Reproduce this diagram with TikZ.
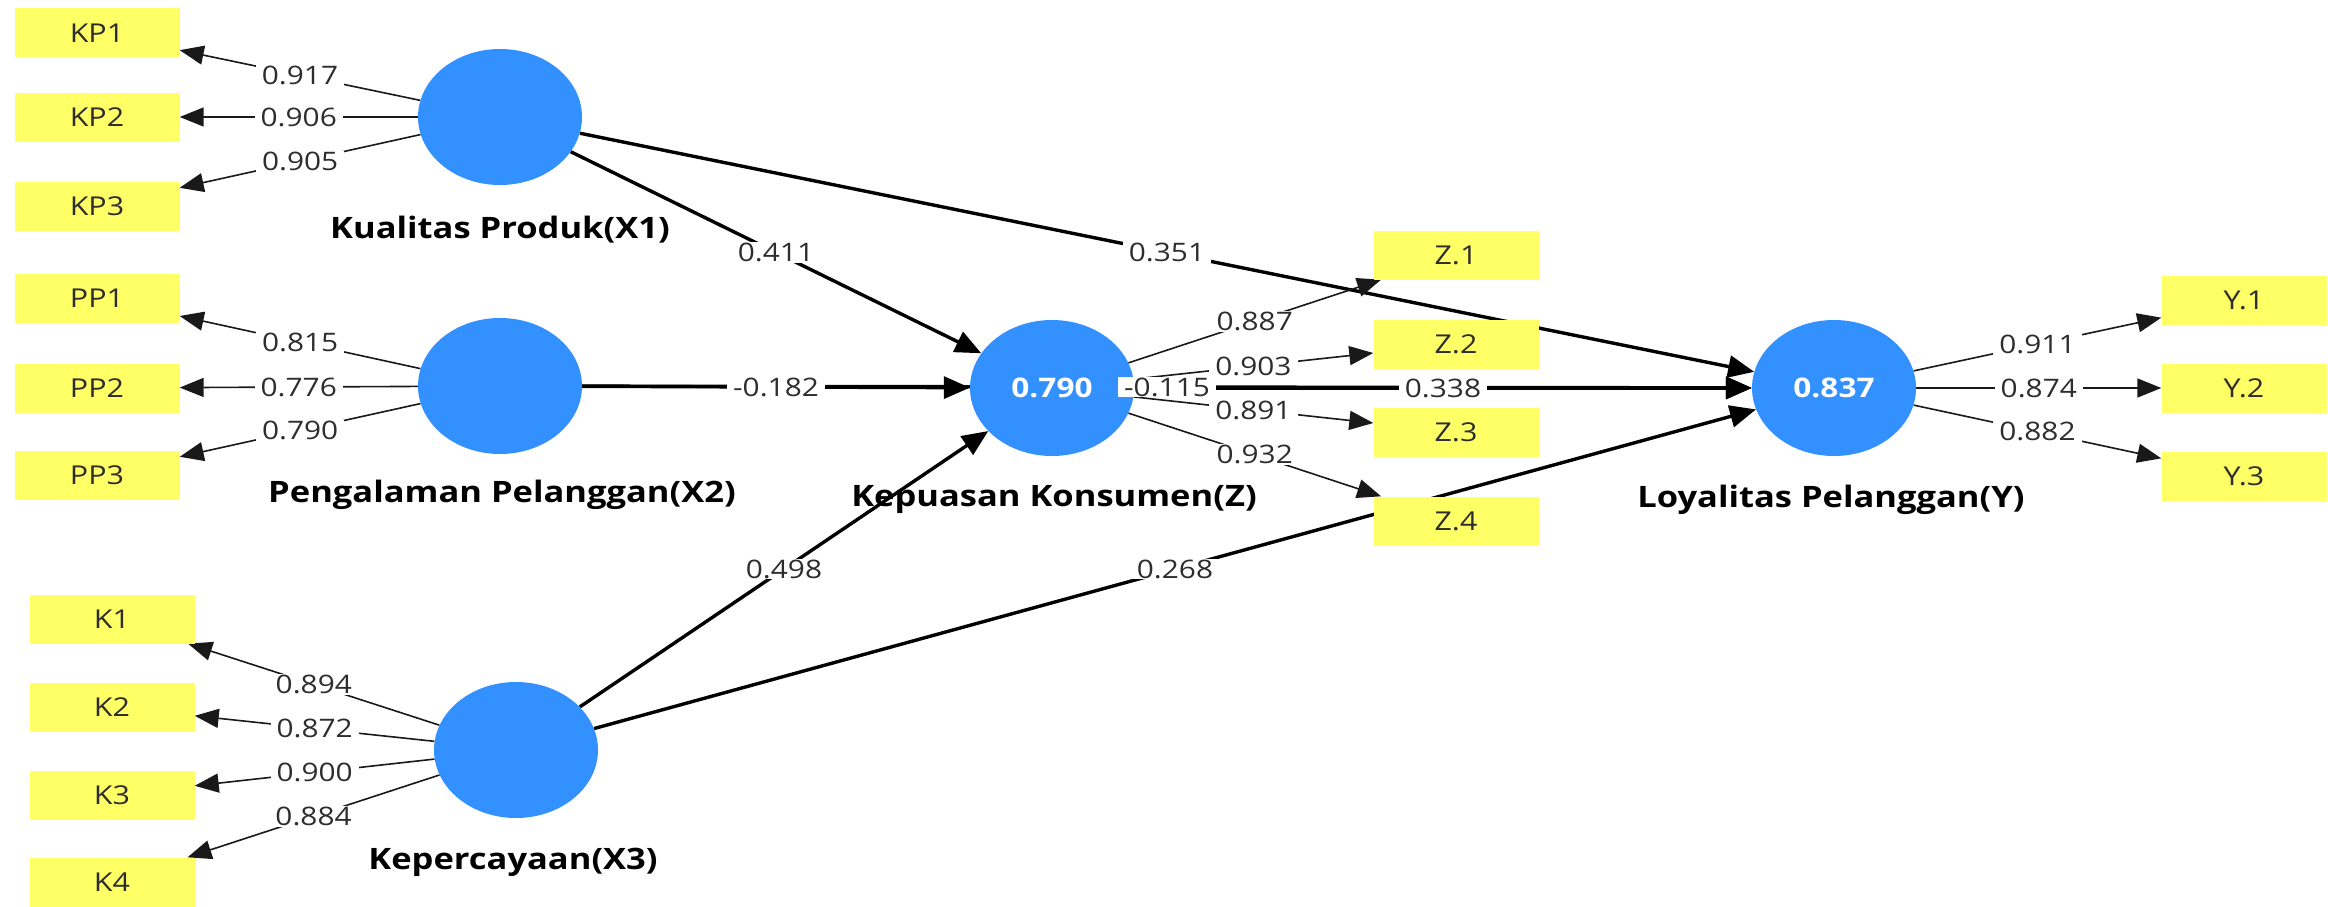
\documentclass[tikz,border=0pt]{standalone}
\usepackage{fontspec}
\setmainfont{Open Sans}[FakeStretch=1.17]
\usetikzlibrary{shapes.geometric,arrows.meta}
\pgfdeclarelayer{bg}\pgfdeclarelayer{fg}\pgfsetlayers{bg,main,fg}
\definecolor{lvblue}{RGB}{51,144,255}
\definecolor{indyel}{RGB}{255,255,102}
\definecolor{txtgray}{RGB}{45,45,45}
\newcommand{\lnk}[5]{%
  \begin{pgfonlayer}{bg}\draw[#1] (#2) -- (#3);\end{pgfonlayer}%
  \begin{pgfonlayer}{fg}\path (#2) -- (#3) node[coef,pos=#5]{#4};\end{pgfonlayer}}
\begin{document}
\begin{tikzpicture}[x=1pt,y=-1pt,
  lv/.style={ellipse, fill=lvblue, minimum width=164pt, minimum height=136pt, inner sep=0pt, text=white, font=\fontsize{27}{30}\selectfont\bfseries},
  ind/.style={rectangle, fill=indyel, minimum width=165pt, minimum height=49pt, inner sep=0pt, text=txtgray, font=\fontsize{26}{30}\selectfont},
  lvname/.style={font=\fontsize{29.5}{33}\selectfont\bfseries, text=black, inner sep=0pt},
  coef/.style={fill=white, inner xsep=6pt, inner ysep=1pt, text=txtgray, font=\fontsize{25.5}{30}\selectfont},
  load/.style={line width=1.6pt, draw=black!90, -{Triangle[length=24pt,width=19pt]}},
  strpath/.style={line width=3.4pt, -{Triangle[length=26pt,width=22pt]}},
]
\useasboundingbox (0,0) rectangle (2328,907);
\begin{pgfonlayer}{bg}\fill[white] (0,0) rectangle (2328,907);\end{pgfonlayer}

% latent variables
\node[lv] (X1) at (500,117) {};
\node[lv] (X2) at (500,386) {};
\node[lv] (X3) at (516,750) {};
\node[lv] (Z)  at (1052,388) {0.790};
\node[lv] (Y)  at (1834,388) {0.837};

% names
\node[lvname] (nX1) at (500,230) {Kualitas Produk(X1)};
\node[lvname] (nX2) at (502,495) {Pengalaman Pelanggan(X2)};
\node[lvname] (nX3) at (513,862) {Kepercayaan(X3)};
\node[lvname] (nZ)  at (1054,500) {Kepuasan Konsumen(Z)};
\node[lvname] (nY)  at (1831,500) {Loyalitas Pelanggan(Y)};

% indicators
\node[ind] (KP1) at (97,33) {KP1};
\node[ind] (KP2) at (97,117) {KP2};
\node[ind] (KP3) at (97,206) {KP3};
\node[ind] (PP1) at (97,298) {PP1};
\node[ind] (PP2) at (97,388) {PP2};
\node[ind] (PP3) at (97,475) {PP3};
\node[ind] (K1) at (112,619) {K1};
\node[ind] (K2) at (112,707) {K2};
\node[ind] (K3) at (112,795) {K3};
\node[ind] (K4) at (112,882) {K4};
\node[ind] (Z1) at (1456,255) {Z.1};
\node[ind] (Z2) at (1456,344) {Z.2};
\node[ind] (Z3) at (1456,432) {Z.3};
\node[ind] (Z4) at (1456,521) {Z.4};
\node[ind] (Y1) at (2244,300) {Y.1};
\node[ind] (Y2) at (2244,388) {Y.2};
\node[ind] (Y3) at (2244,476) {Y.3};

% structural paths
\lnk{strpath}{X1}{Z}{0.411}{0.5}
\lnk{strpath}{X1}{Y}{0.351}{0.5}
\lnk{strpath}{X2}{Z}{-0.182}{0.5}
\lnk{strpath}{X2}{Y}{-0.115}{0.5}
\lnk{strpath}{X3}{Z}{0.498}{0.5}
\lnk{strpath}{X3}{Y}{0.268}{0.5}
\lnk{strpath}{Z}{Y}{0.338}{0.5}

% outer loadings
\lnk{load}{X1}{KP1}{0.917}{0.5}
\lnk{load}{X1}{KP2}{0.906}{0.5}
\lnk{load}{X1}{KP3}{0.905}{0.5}
\lnk{load}{X2}{PP1}{0.815}{0.5}
\lnk{load}{X2}{PP2}{0.776}{0.5}
\lnk{load}{X2}{PP3}{0.790}{0.5}
\lnk{load}{X3}{K1}{0.894}{0.5}
\lnk{load}{X3}{K2}{0.872}{0.5}
\lnk{load}{X3}{K3}{0.900}{0.5}
\lnk{load}{X3}{K4}{0.884}{0.5}
\lnk{load}{Z}{Z1}{0.887}{0.5}
\lnk{load}{Z}{Z2}{0.903}{0.5}
\lnk{load}{Z}{Z3}{0.891}{0.5}
\lnk{load}{Z}{Z4}{0.932}{0.5}
\lnk{load}{Y}{Y1}{0.911}{0.5}
\lnk{load}{Y}{Y2}{0.874}{0.5}
\lnk{load}{Y}{Y3}{0.882}{0.5}
\end{tikzpicture}
\end{document}
